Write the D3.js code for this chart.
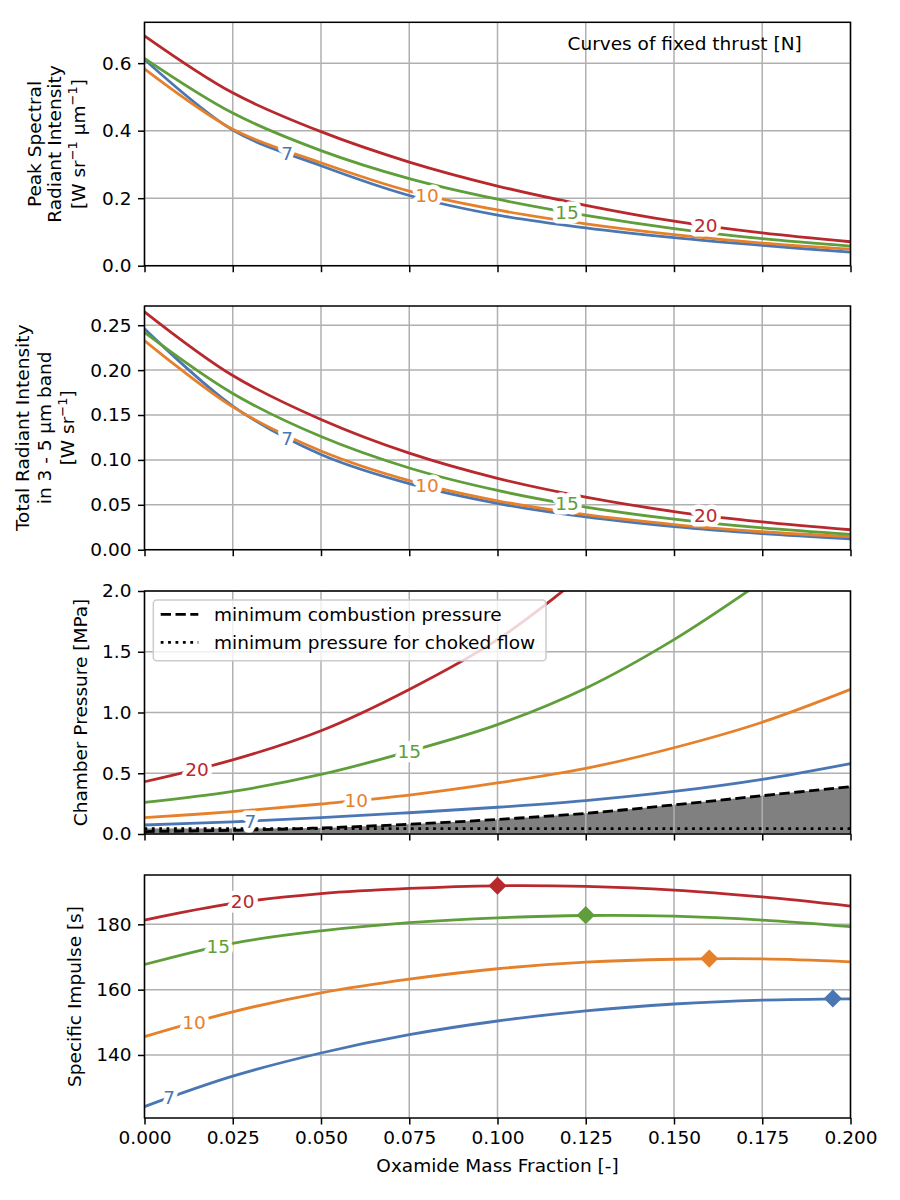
<!DOCTYPE html>
<html><head><meta charset="utf-8">
<script src="https://cdn.jsdelivr.net/npm/d3@7"></script>
<style>body{margin:0;background:#fff} text{font-family:"DejaVu Sans",sans-serif}</style>
</head><body><svg id="c" width="900" height="1200"></svg>
<script>
// ---------- data ----------
const xFrac = [0, 0.025, 0.05, 0.075, 0.1, 0.125, 0.15, 0.175, 0.2];
const thrustLabels = ["7", "10", "15", "20"];
const lineColors = ["#4a77b4", "#e6812b", "#5f9e3a", "#b8292e"];

// Panel 1: peak spectral radiant intensity [W sr^-1 um^-1]
const peak7  = [0.611, 0.402, 0.296, 0.208, 0.150, 0.112, 0.083, 0.060, 0.040];
const peak10 = [0.583, 0.404, 0.305, 0.221, 0.165, 0.124, 0.092, 0.067, 0.049];
const peak15 = [0.614, 0.452, 0.341, 0.258, 0.197, 0.149, 0.110, 0.080, 0.058];
const peak20 = [0.681, 0.512, 0.397, 0.307, 0.236, 0.179, 0.132, 0.097, 0.071];

// Panel 2: total radiant intensity 3-5 um [W sr^-1]
const total7  = [0.246, 0.160, 0.106, 0.0735, 0.0515, 0.0365, 0.0258, 0.0180, 0.0122];
const total10 = [0.233, 0.159, 0.110, 0.0770, 0.0545, 0.0390, 0.0280, 0.0200, 0.0145];
const total15 = [0.242, 0.174, 0.126, 0.0910, 0.0660, 0.0475, 0.0340, 0.0242, 0.0171];
const total20 = [0.265, 0.194, 0.145, 0.1075, 0.0795, 0.0585, 0.0425, 0.0310, 0.0222];

// Panel 3: chamber pressure [MPa]
const pres7  = [0.074, 0.100, 0.134, 0.175, 0.220, 0.275, 0.350, 0.450, 0.580];
const pres10 = [0.134, 0.184, 0.247, 0.320, 0.420, 0.540, 0.710, 0.920, 1.190];
const pres15 = [0.26, 0.35, 0.49, 0.68, 0.90, 1.20, 1.60, 2.08];
const pres20 = [0.43, 0.61, 0.85, 1.19, 1.60, 2.15];
const minCombustion = [0.020, 0.030, 0.050, 0.080, 0.120, 0.170, 0.240, 0.315, 0.390];
const minChoked     = [0.045, 0.045, 0.045, 0.045, 0.045, 0.045, 0.045, 0.045, 0.045];

// Panel 4: specific impulse [s]
const isp7  = [124.2, 133.5, 140.6, 146.2, 150.4, 153.5, 155.6, 156.8, 157.2];
const isp10 = [145.6, 153.2, 159.0, 163.2, 166.4, 168.4, 169.3, 169.4, 168.5];
const isp15 = [167.7, 174.2, 178.0, 180.5, 182.0, 182.7, 182.5, 181.3, 179.3];
const isp20 = [181.3, 186.4, 189.4, 191.0, 191.8, 191.6, 190.5, 188.4, 185.6];
const ispMaxX = [0.195, 0.16, 0.125, 0.1];
const ispMaxY = [157.3, 169.5, 182.8, 191.8];

// label x positions (data units)
const labX1 = [0.0404, 0.080, 0.1197, 0.159];
const labX3 = [0.030, 0.060, 0.075, 0.0149];
const labX4 = [0.007, 0.014, 0.0209, 0.0278];

const xTicks = [0, 0.025, 0.05, 0.075, 0.1, 0.125, 0.15, 0.175, 0.2];
const yTicks1 = [0.0, 0.2, 0.4, 0.6];
const yTicks2 = [0.00, 0.05, 0.10, 0.15, 0.20, 0.25];
const yTicks3 = [0.0, 0.5, 1.0, 1.5, 2.0];
const yTicks4 = [140, 160, 180];

// ---------- layout ----------
const FS = 18.5;
const L = 144.5, R = 850.5;
const svg = d3.select("#c");
const x = d3.scaleLinear().domain([0, 0.2]).range([L, R]);

const panels = [
  {top: 22.3, bottom: 265.7, dom: [0, 0.721], ticks: yTicks1, fmt: d3.format(".1f"),
   series: [peak7, peak10, peak15, peak20], labX: labX1},
  {top: 306, bottom: 549.7, dom: [0, 0.2714], ticks: yTicks2, fmt: d3.format(".2f"),
   series: [total7, total10, total15, total20], labX: labX1},
  {top: 591, bottom: 834, dom: [0, 2], ticks: yTicks3, fmt: d3.format(".1f"),
   series: [pres7, pres10, pres15, pres20], labX: labX3},
  {top: 875, bottom: 1118, dom: [120.7, 195.1], ticks: yTicks4, fmt: d3.format("d"),
   series: [isp7, isp10, isp15, isp20], labX: labX4}
];

function pointAtX(node, xp) {
  let lo = 0, hi = node.getTotalLength();
  for (let i = 0; i < 40; i++) {
    const mid = (lo + hi) / 2;
    if (node.getPointAtLength(mid).x < xp) lo = mid; else hi = mid;
  }
  return node.getPointAtLength(lo);
}

panels.forEach((p, pi) => {
  const y = d3.scaleLinear().domain(p.dom).range([p.bottom, p.top]);
  const g = svg.append("g");
  const clipId = "clip" + pi;
  svg.append("clipPath").attr("id", clipId).append("rect")
    .attr("x", L).attr("y", p.top).attr("width", R - L).attr("height", p.bottom - p.top);

  if (pi === 2) {
    const fillTop = minCombustion.map((v, i) => Math.max(v, minChoked[i]));
    g.append("path")
      .datum(xFrac.map((xv, i) => [xv, fillTop[i]]))
      .attr("fill", "#808080")
      .attr("clip-path", `url(#${clipId})`)
      .attr("d", d3.area().x(d => x(d[0])).y0(y(0)).y1(d => y(d[1])).curve(d3.curveCatmullRom));
  }

  // grid
  g.selectAll(".gx").data(xTicks).join("line")
    .attr("x1", d => x(d)).attr("x2", d => x(d)).attr("y1", p.top).attr("y2", p.bottom)
    .attr("stroke", "#b0b0b0").attr("stroke-width", 1.5);
  g.selectAll(".gy").data(p.ticks).join("line")
    .attr("x1", L).attr("x2", R).attr("y1", d => y(d)).attr("y2", d => y(d))
    .attr("stroke", "#b0b0b0").attr("stroke-width", 1.5);

  const lineGen = d3.line().x(d => x(d[0])).y(d => y(d[1])).curve(d3.curveCatmullRom);
  const lg = g.append("g").attr("clip-path", `url(#${clipId})`);

  if (pi === 2) {
    lg.append("path").datum(xFrac.map((xv, i) => [xv, minChoked[i]]))
      .attr("fill", "none").attr("stroke", "#000").attr("stroke-width", 2.8)
      .attr("stroke-dasharray", "2.8,4.6").attr("d", lineGen);
    lg.append("path").datum(xFrac.map((xv, i) => [xv, minCombustion[i]]))
      .attr("fill", "none").attr("stroke", "#000").attr("stroke-width", 2.8)
      .attr("stroke-dasharray", "10.3,4.5").attr("d", lineGen);
  }

  const paths = p.series.map((s, si) =>
    lg.append("path").datum(s.map((v, i) => [xFrac[i], v]))
      .attr("fill", "none").attr("stroke", lineColors[si]).attr("stroke-width", 2.8)
      .attr("d", lineGen).node());

  if (pi === 3) {
    const sq = d3.symbol().type(d3.symbolSquare).size(165);
    ispMaxX.forEach((mx, i) => {
      g.append("path").attr("d", sq())
        .attr("transform", `translate(${x(mx)},${y(ispMaxY[i])}) rotate(45)`)
        .attr("fill", lineColors[i]);
    });
  }

  // inline labels
  paths.forEach((node, si) => {
    const pt = pointAtX(node, x(p.labX[si]));
    g.append("text").text(thrustLabels[si])
      .attr("x", pt.x).attr("y", pt.y)
      .attr("text-anchor", "middle").attr("dominant-baseline", "central")
      .attr("font-size", FS).attr("fill", lineColors[si])
      .attr("stroke", "#fff").attr("stroke-width", 9).attr("stroke-linejoin", "round")
      .attr("paint-order", "stroke");
  });

  // axes
  const ya = g.append("g").attr("transform", `translate(${L},0)`)
    .call(d3.axisLeft(y).tickValues(p.ticks).tickFormat(p.fmt).tickSize(6.5).tickPadding(6.5).tickSizeOuter(0));
  const xa = g.append("g").attr("transform", `translate(0,${p.bottom})`)
    .call(d3.axisBottom(x).tickValues(xTicks).tickFormat(pi === 3 ? d3.format(".3f") : () => "")
      .tickSize(6.5).tickPadding(6.5).tickSizeOuter(0));
  if (pi !== 3) xa.selectAll("text").remove();
  [ya, xa].forEach(a => {
    a.select(".domain").remove();
    a.selectAll("line").attr("stroke", "#000").attr("stroke-width", 1.5);
    a.selectAll("text").attr("font-size", FS).attr("fill", "#000")
      .attr("font-family", "DejaVu Sans");
  });
  g.append("rect").attr("x", L).attr("y", p.top).attr("width", R - L).attr("height", p.bottom - p.top)
    .attr("fill", "none").attr("stroke", "#000").attr("stroke-width", 1.5);
});

// ---------- y labels ----------
function yLabel(lines, cy) {
  lines.forEach(([bx, parts]) => {
    const t = svg.append("text").attr("transform", `translate(${bx},${cy}) rotate(-90)`)
      .attr("text-anchor", "middle").attr("font-size", FS).attr("fill", "#000");
    let reset = false;
    parts.forEach(pt => {
      if (typeof pt === "string") {
        const ts = t.append("tspan").text(pt);
        if (reset) { ts.attr("dy", 7.5); reset = false; }
      } else {
        t.append("tspan").text(pt.sup).attr("font-size", 13).attr("dy", -7.5);
        reset = true;
      }
    });
  });
}
const mid = p => (p.top + p.bottom) / 2;
yLabel([[41, ["Peak Spectral"]], [61, ["Radiant Intensity"]],
        [84.5, ["[W sr", {sup: "\u22121"}, " \u03bcm", {sup: "\u22121"}, "]"]]], mid(panels[0]));
yLabel([[29, ["Total Radiant Intensity"]], [50.5, ["in 3 - 5 \u03bcm band"]],
        [74.3, ["[W sr", {sup: "\u22121"}, "]"]]], mid(panels[1]));
yLabel([[86.5, ["Chamber Pressure [MPa]"]]], mid(panels[2]));
yLabel([[81, ["Specific Impulse [s]"]]], mid(panels[3]));

// x label
svg.append("text").attr("x", (L + R) / 2).attr("y", 1172).attr("text-anchor", "middle")
  .attr("font-size", FS).text("Oxamide Mass Fraction [-]");

// annotation
svg.append("text").attr("x", 567.5).attr("y", 50).attr("font-size", FS)
  .text("Curves of fixed thrust [N]");

// legend
const lgd = svg.append("g");
lgd.append("rect").attr("x", 153.3).attr("y", 600).attr("width", 392.7).attr("height", 60.7)
  .attr("rx", 3.5).attr("fill", "#fff").attr("fill-opacity", 0.8)
  .attr("stroke", "#cccccc").attr("stroke-width", 1.5);
const legItems = [["minimum combustion pressure", "10.3,4.5", 614.3],
                  ["minimum pressure for choked flow", "2.8,4.6", 642.3]];
legItems.forEach(([txt, dash, ly]) => {
  lgd.append("line").attr("x1", 160.7).attr("x2", 198.3).attr("y1", ly).attr("y2", ly)
    .attr("stroke", "#000").attr("stroke-width", 2.8).attr("stroke-dasharray", dash);
  lgd.append("text").attr("x", 214).attr("y", ly).attr("dominant-baseline", "central")
    .attr("font-size", FS).text(txt);
});
</script></body></html>
